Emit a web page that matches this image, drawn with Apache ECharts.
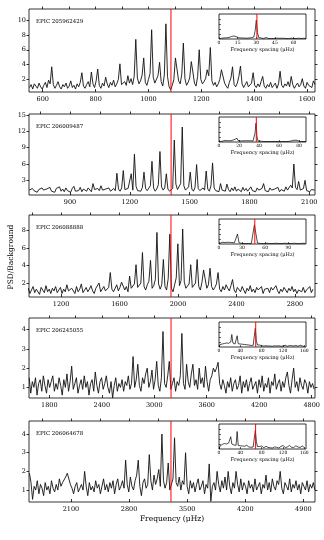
<!DOCTYPE html>
<html>
<head>
<meta charset="utf-8">
<script src="https://cdn.jsdelivr.net/npm/echarts@6/dist/echarts.min.js"></script>
<style>
html, body { margin: 0; padding: 0; background: #fff; }
#chart { width: 324px; height: 540px; }
</style>
</head>
<body>
<div id="chart"></div>
<script>
// star names, one per panel
var starIds = ['EPIC 205962429', 'EPIC 206009487', 'EPIC 206088888', 'EPIC 206245055', 'EPIC 206064678'];

// spectra are sampled on a regular grid: first frequency and step (muHz)
var specStart = [550, 695, 965, 1570, 1600];
var specStep = [6, 8, 11, 18, 19];

// PSD/background
var psd1 = [
  0.9,1.3,0.7,1.4,1.1,0.8,1.5,1.0,0.7,1.2, 1.6,0.9,1.9,1.4,3.7,1.3,0.8,1.2,1.7,1.0,
  0.7,1.3,1.0,1.5,0.8,1.1,1.8,0.9,1.2,0.7, 1.4,1.0,1.6,2.9,1.1,0.8,1.3,1.7,1.0,3.0,
  1.4,0.9,1.8,3.4,1.2,0.8,1.5,1.1,2.3,1.4, 0.9,1.6,1.2,1.9,1.0,1.4,2.0,4.1,1.3,1.1,
  1.7,1.2,2.5,1.5,2.1,1.3,2.4,7.4,2.2,1.4, 1.8,2.6,4.9,1.6,1.2,2.0,2.8,8.7,2.3,1.5,
  1.3,2.5,4.3,1.7,1.1,2.6,9.5,2.4,1.0,0.6, 1.2,2.0,4.9,5.1,1.8,1.4,2.7,6.9,2.1,1.2,
  1.6,2.2,4.4,3.0,1.5,1.1,2.4,6.0,2.0,1.4, 1.7,2.1,3.3,2.5,6.3,1.8,1.2,1.6,1.0,1.4,
  2.0,3.3,3.3,1.5,1.1,0.8,1.6,2.2,3.7,1.3, 1.0,1.5,2.4,3.8,1.4,0.9,1.3,1.7,1.0,0.8,
  1.5,2.9,1.2,0.9,1.4,1.0,1.7,2.4,1.1,0.8, 1.3,1.0,1.6,0.9,1.2,1.5,0.8,1.4,3.1,1.2,
  0.9,1.4,1.1,1.7,1.0,2.4,1.3,0.8,1.2,1.5, 1.0,1.3,2.1,1.1,0.8,1.6,1.2,1.4,0.9,1.8,1.3
];
var psd2 = [
  1.2,0.9,1.5,1.1,1.4,0.8,1.3,1.0,1.6,1.2, 0.9,1.4,1.1,1.7,1.0,1.3,0.8,1.5,1.2,1.8,
  1.0,1.4,0.9,1.6,1.1,1.3,0.8,1.5,1.9,1.0, 1.3,1.1,1.7,0.9,1.4,1.2,1.0,1.6,1.3,0.9,
  2.4,1.3,1.0,1.5,1.1,2.0,1.2,0.9,1.4,1.1, 1.6,1.0,1.3,1.5,1.1,4.3,1.4,1.0,1.6,4.8,
  1.3,1.0,1.5,1.8,4.2,1.2,7.8,1.9,1.1,1.4, 1.0,1.7,4.5,1.5,1.1,1.3,2.0,6.5,1.6,1.0,
  1.4,2.2,8.3,1.8,1.2,1.6,4.2,1.4,1.0,0.7, 1.5,10.4,2.3,1.3,1.1,2.4,12.8,2.0,1.2,1.5,
  1.8,4.5,1.4,1.0,1.7,5.9,1.5,1.1,1.3,1.6, 1.2,4.7,1.4,1.0,2.0,6.2,1.6,1.1,1.4,0.9,
  2.4,1.2,1.5,1.0,2.3,1.3,0.9,1.6,1.1,1.8, 1.0,1.4,1.2,0.9,1.7,1.1,1.5,1.0,1.3,1.8,
  1.1,1.4,0.9,1.6,1.2,1.0,1.5,2.4,1.1,1.3, 0.9,1.6,1.2,1.0,1.4,1.1,1.7,0.9,1.3,1.5,
  1.0,1.8,1.2,1.4,2.1,1.6,6.0,1.7,1.3,2.8, 1.2,1.0,1.5,3.0,1.1,1.4,0.9,1.3,1.1,1.2
];
var psd3 = [
  1.0,1.4,0.8,1.2,1.6,0.9,1.3,1.1,0.7,1.5, 1.2,0.9,1.7,1.0,1.3,0.8,1.4,1.1,1.6,0.9,
  1.2,1.5,0.8,1.3,1.0,1.8,1.1,0.9,1.4,1.2, 0.8,1.6,1.0,1.3,1.9,0.9,1.2,1.5,1.0,1.3,
  1.7,1.1,0.8,1.4,1.2,2.0,1.0,1.3,1.6,1.1, 0.9,1.5,3.2,1.3,1.0,1.4,1.8,1.1,1.5,2.1,
  2.2,1.2,1.6,1.0,2.8,1.4,1.2,1.9,4.1,1.5, 1.3,2.0,5.5,1.6,1.2,1.8,2.2,4.6,1.4,1.7,
  2.4,7.8,1.9,1.3,1.8,4.7,1.6,1.2,2.5,7.6, 1.4,1.0,1.8,2.6,6.5,1.7,2.3,8.2,2.1,1.4,
  1.2,1.9,4.1,1.5,1.3,2.0,4.7,1.6,1.2,2.1, 3.5,3.3,1.4,1.8,3.7,1.6,1.2,1.5,1.9,3.2,
  1.3,1.0,1.6,1.2,1.8,1.4,1.1,1.7,2.4,1.2, 0.9,1.5,1.3,1.0,1.6,1.2,0.8,1.4,1.1,1.7,
  1.0,1.3,0.9,1.5,1.2,1.0,1.6,0.8,1.3,1.1, 1.4,0.9,1.5,1.2,1.0,1.7,1.1,0.8,1.3,1.0,
  1.5,1.2,0.9,1.4,1.1,1.6,1.0,1.3,0.8,1.2, 1.4,1.0,1.5,0.9,1.2,1.1,1.6,0.9,1.3
];
var psd4 = [
  1.5,0.7,1.3,1.0,1.5,0.6,1.2,1.4,0.8,1.6, 1.1,0.7,1.4,1.0,1.3,1.6,0.8,1.2,0.9,1.5,
  1.1,0.6,1.4,1.0,1.7,0.8,1.3,2.1,0.9,1.2, 1.5,0.7,1.1,1.4,0.9,1.6,1.0,1.3,0.6,1.2,
  1.4,0.8,1.8,1.1,0.7,1.3,1.5,0.9,1.2,1.6, 1.0,0.7,1.3,0.45,1.1,1.5,0.8,1.2,1.0,1.4,
  0.8,1.3,1.1,1.6,0.9,1.2,2.6,1.0,1.4,2.2, 1.1,0.8,1.5,1.2,1.7,2.0,1.0,1.3,1.9,0.9,
  1.4,2.35,1.1,0.8,1.5,3.9,1.2,1.0,1.6,2.35, 0.9,1.2,1.5,0.8,1.3,1.1,1.6,3.8,1.2,0.9,
  2.2,1.3,1.0,1.7,2.2,1.1,1.4,0.9,2.0,1.2, 1.5,1.0,2.1,1.3,0.8,1.4,1.6,2.0,1.8,2.0,
  2.3,1.2,0.9,1.4,1.1,0.7,1.3,1.0,1.5,0.8, 1.2,1.4,0.9,1.1,1.6,0.7,1.3,1.0,1.4,0.8,
  1.2,1.5,0.9,1.1,1.3,0.7,1.4,1.0,1.6,0.8, 1.2,1.0,1.5,0.7,1.3,1.1,1.7,0.9,1.2,1.4,
  0.8,1.3,1.0,1.5,1.8,1.1,0.7,1.4,2.0,1.0, 1.3,0.8,1.5,1.1,0.9,1.4,1.2,0.7,1.3,1.0,1.2,0.9
];
var psd5 = [
  1.9,1.4,0.5,1.2,1.0,1.5,0.8,1.3,1.1,0.7, 1.4,1.0,1.2,0.8,1.5,1.1,0.9,1.3,1.0,1.6,
  1.2,1.4,1.5,1.7,1.9,1.8,1.3,1.1,0.8,1.2, 1.4,0.9,1.1,1.3,1.0,2.0,1.2,0.7,1.4,1.0,
  1.2,0.9,1.5,1.1,1.3,0.8,1.2,1.6,1.0,1.3, 0.9,1.4,1.1,1.5,0.8,1.3,1.6,1.0,1.2,1.5,
  1.1,2.6,1.3,0.9,1.7,1.2,1.0,1.5,1.8,2.6, 1.2,0.7,1.4,1.6,1.1,1.3,2.9,1.5,1.0,1.8,
  1.3,1.6,2.1,1.2,4.0,1.5,1.1,1.4,2.45,1.0, 0.9,1.6,3.8,1.4,1.2,1.7,1.0,1.5,1.3,3.0,
  1.2,0.8,1.5,1.1,1.4,0.9,1.3,1.6,1.0,1.2, 1.5,0.8,1.3,1.1,2.4,0.4,1.2,1.4,1.0,2.0,
  1.3,0.9,1.5,1.1,1.7,1.0,2.0,1.2,0.8,1.4, 1.1,2.0,1.3,0.9,1.6,1.0,1.4,1.2,0.8,1.5,
  1.1,1.3,0.9,1.6,1.0,1.2,1.4,0.8,1.3,1.1, 1.8,1.0,1.4,0.9,1.6,1.2,1.0,1.5,1.3,2.0,
  1.1,0.8,1.4,1.2,1.0,1.6,0.9,1.3,1.1,1.5, 1.0,1.3,0.8,1.4,1.2,1.0,1.5,0.9,1.3,1.1,1.4,1.0
];
var psdAll = [psd1, psd2, psd3, psd4, psd5];

// numax (red line) per panel
var numax = [1085, 1407, 1952, 3192, 3305];

// axis limits and tick labels of the main panels
var xLimits = [[548, 1630], [694, 2129], [981, 2937], [1568, 4838], [1595, 5040]];
var xTicks = [
  [600, 800, 1000, 1200, 1400, 1600],
  [900, 1200, 1500, 1800, 2100],
  [1200, 1600, 2000, 2400, 2800],
  [1800, 2400, 3000, 3600, 4200, 4800],
  [2100, 2800, 3500, 4200, 4900]
];
var xMinorStep = [100, 150, 200, 300, 350];
var yLimits = [[0.3, 11.5], [0.3, 15.2], [0.4, 9.8], [0.45, 4.6], [0.36, 4.7]];
var yTicks = [
  [2, 4, 6, 8, 10],
  [3, 6, 9, 12, 15],
  [2, 4, 6, 8],
  [1, 2, 3, 4],
  [1, 2, 3, 4]
];

// insets: collapsed ACF vs frequency spacing
var acfStep = [1, 1, 2, 2, 2];
var acf1 = [
  0,0.02,0.03,0.05,0.04,0.06,0.05,0.07,0.06,0.08, 0.1,0.07,0.12,0.08,0.09,0.06,0.05,0.07,0.04,0.05,
  0.04,0.06,0.03,0.05,0.04,0.03,0.05,0.04,0.08,0.3, 0.75,0.25,0.06,0.03,0.04,0.03,0.02,0.04,0.06,0.03,
  0.02,0.03,0.02,0.03,0.02,0.02,0.03,0.02,0.03,0.04, 0.03,0.02,0.03,0.02,0.02,0.03,0.02,0.02,0.03,0.02,
  0.02,0.03,0.02,0.02,0.03,0.02,0.02,0.02,0.03,0.02,0.02
];
var acf2 = [
  0,0.03,0.04,0.03,0.05,0.04,0.06,0.05,0.07,0.05, 0.06,0.08,0.05,0.07,0.06,0.09,0.07,0.1,0.15,0.06,
  0.05,0.07,0.04,0.06,0.11,0.05,0.04,0.03,0.05,0.04, 0.03,0.05,0.04,0.08,0.04,0.06,0.35,0.75,0.2,0.04,
  0.03,0.02,0.03,0.02,0.03,0.02,0.02,0.03,0.02,0.02, 0.03,0.02,0.02,0.03,0.02,0.02,0.03,0.02,0.02,0.03,
  0.02,0.02,0.03,0.02,0.02,0.03,0.02,0.02,0.03,0.02, 0.02,0.03,0.04,0.05,0.06,0.07,0.08,0.08,0.07,0.06,
  0.04,0.02,0.02,0.03,0.02,0.02,0.03,0.02
];
var acf3 = [
  0,0.05,0.07,0.08,0.06,0.09,0.07,0.08,0.06,0.07, 0.05,0.06,0.4,0.05,0.03,0.02,0.03,0.02,0.03,0.02,
  0.03,0.02,0.08,0.77,0.4,0.04,0.03,0.02,0.03,0.02, 0.02,0.03,0.02,0.02,0.03,0.02,0.02,0.03,0.02,0.02,
  0.03,0.02,0.02,0.03,0.02,0.02,0.03,0.02,0.02,0.03, 0.02,0.02,0.03,0.02,0.02,0.03,0.02
];
var acf4 = [
  0,0.1,0.15,0.12,0.18,0.14,0.2,0.16,0.22,0.15, 0.18,0.2,0.5,0.16,0.14,0.12,0.15,0.45,0.13,0.1,
  0.12,0.09,0.11,0.08,0.1,0.07,0.09,0.06,0.08,0.05, 0.06,0.05,0.07,0.1,0.75,0.25,0.08,0.06,0.08,0.04,
  0.05,0.07,0.04,0.03,0.05,0.06,0.04,0.03,0.04,0.05, 0.03,0.04,0.05,0.06,0.04,0.03,0.05,0.04,0.03,0.02,
  0.04,0.06,0.07,0.05,0.03,0.04,0.06,0.07,0.05,0.03, 0.04,0.05,0.06,0.04,0.03,0.05,0.07,0.06,0.04,0.03,
  0.02
];
var acf5 = [
  0,0.12,0.2,0.18,0.25,0.22,0.28,0.2,0.26,0.24, 0.22,0.49,0.2,0.18,0.16,0.2,0.15,0.7,0.14,0.12,
  0.13,0.1,0.12,0.09,0.11,0.08,0.15,0.1,0.08,0.06, 0.07,0.06,0.08,0.12,0.74,0.3,0.1,0.08,0.1,0.06,
  0.12,0.08,0.05,0.09,0.11,0.07,0.06,0.08,0.05,0.06, 0.04,0.06,0.08,0.1,0.07,0.05,0.04,0.06,0.1,0.13,
  0.14,0.1,0.06,0.05,0.08,0.12,0.14,0.11,0.07,0.05, 0.06,0.1,0.13,0.12,0.08,0.05,0.06,0.09,0.12,0.1,
  0.06
];
var acfAll = [acf1, acf2, acf3, acf4, acf5];
var dnu = [30.5, 37.3, 46.5, 68.8, 68.6];
var insetMax = [70, 87, 113, 163, 163];
var insetTicks = [
  [0, 15, 30, 45, 60],
  [0, 20, 40, 60, 80],
  [0, 30, 60, 90],
  [0, 40, 80, 120, 160],
  [0, 40, 80, 120, 160]
];

var panelTop = [9, 114, 215, 318, 421];
var panelH = [83, 81, 82, 80, 81];
var insetTop = [14, 117, 219, 322, 424];

var FONT = 'DejaVu Serif';
var RED = '#ff0000';
var grids = [], xAxes = [], yAxes = [], series = [], graphics = [];

function minorTicks(lim, step) {
  var out = [];
  for (var v = Math.ceil(lim[0] / step) * step; v <= lim[1]; v += step) out.push(v);
  return out;
}
function plain(v) { return String(v); }

// vertical red marker drawn as its own little series
function redSeries(xa, ya, x, y0, y1) {
  return { type: 'line', xAxisIndex: xa, yAxisIndex: ya, data: [[x, y0], [x, y1]],
    showSymbol: false, animation: false, silent: true, z: 5,
    lineStyle: { color: RED, width: 1 }, itemStyle: { color: RED } };
}

for (var k = 0; k < 5; k++) {
  // main panel
  var g = grids.length;
  grids.push({ left: 29, top: panelTop[k], width: 286, height: panelH[k], show: true,
    borderColor: '#000', borderWidth: 0.8, backgroundColor: 'transparent' });
  var xa = xAxes.length, ya = yAxes.length;
  xAxes.push({ type: 'value', gridIndex: g, min: xLimits[k][0], max: xLimits[k][1],
    axisLine: { show: false }, splitLine: { show: false },
    axisTick: { customValues: xTicks[k], inside: true, length: 3, lineStyle: { color: '#000', width: 0.8 } },
    axisLabel: { customValues: xTicks[k], formatter: plain, fontSize: 6.5, fontFamily: FONT, color: '#000', margin: 4 } });
  xAxes.push({ type: 'value', gridIndex: g, position: 'top', min: xLimits[k][0], max: xLimits[k][1],
    axisLine: { show: false }, splitLine: { show: false }, axisLabel: { show: false },
    axisTick: { customValues: minorTicks(xLimits[k], xMinorStep[k]), length: 2.5, lineStyle: { color: '#000', width: 0.8 } } });
  yAxes.push({ type: 'value', gridIndex: g, min: yLimits[k][0], max: yLimits[k][1],
    axisLine: { show: false }, splitLine: { show: false },
    axisTick: { customValues: yTicks[k], length: 2.5, lineStyle: { color: '#000', width: 0.8 } },
    axisLabel: { customValues: yTicks[k], formatter: plain, fontSize: 6.5, fontFamily: FONT, color: '#000', margin: 3 } });
  yAxes.push({ type: 'value', gridIndex: g, position: 'right', min: yLimits[k][0], max: yLimits[k][1],
    axisLine: { show: false }, splitLine: { show: false }, axisLabel: { show: false },
    axisTick: { customValues: yTicks[k], length: 2.5, lineStyle: { color: '#000', width: 0.8 } } });

  var pts = psdAll[k].map(function (v, i) { return [specStart[k] + i * specStep[k], v]; });
  series.push({ type: 'line', xAxisIndex: xa, yAxisIndex: ya, data: pts, showSymbol: false,
    clip: true, animation: false, z: 3, lineStyle: { color: '#111', width: 0.9 }, itemStyle: { color: '#111' } });
  series.push(redSeries(xa, ya, numax[k], yLimits[k][0], yLimits[k][1]));

  graphics.push({ type: 'text', left: 36, top: panelTop[k] + 10,
    style: { text: starIds[k], font: '5.5px "' + FONT + '"', fill: '#000' } });

  // inset
  var gi = grids.length;
  grids.push({ left: 219, top: insetTop[k], width: 87, height: 25, show: true,
    borderColor: '#000', borderWidth: 0.8, backgroundColor: '#fff' });
  var xi = xAxes.length, yi = yAxes.length;
  xAxes.push({ type: 'value', gridIndex: gi, min: 0, max: insetMax[k],
    axisLine: { show: false }, splitLine: { show: false },
    axisTick: { customValues: insetTicks[k], inside: true, length: 2, lineStyle: { color: '#000', width: 0.6 } },
    axisLabel: { customValues: insetTicks[k], formatter: plain, fontSize: 4.5, fontFamily: FONT, color: '#000', margin: 1.5 },
    name: 'Frequency spacing (\u03bcHz)', nameLocation: 'middle', nameGap: 8.5,
    nameTextStyle: { fontSize: 5, fontFamily: FONT, color: '#000' } });
  yAxes.push({ type: 'value', gridIndex: gi, min: 0, max: 1,
    axisLine: { show: false }, splitLine: { show: false }, axisLabel: { show: false },
    axisTick: { customValues: [0.2, 0.4, 0.6, 0.8], inside: true, length: 2, lineStyle: { color: '#000', width: 0.6 } } });
  var apts = acfAll[k].map(function (v, i) { return [i * acfStep[k], v]; });
  series.push({ type: 'line', xAxisIndex: xi, yAxisIndex: yi, data: apts, showSymbol: false,
    animation: false, z: 3, lineStyle: { color: '#000', width: 0.7 }, itemStyle: { color: '#000' } });
  series.push(redSeries(xi, yi, dnu[k], 0, 1));
}

graphics.push({ type: 'text', x: 11, y: 257, rotation: Math.PI / 2,
  style: { text: 'PSD/Background', font: '7.5px "' + FONT + '"', fill: '#000', align: 'center', verticalAlign: 'middle' } });
graphics.push({ type: 'text', x: 172, y: 519,
  style: { text: 'Frequency (\u03bcHz)', font: '7.5px "' + FONT + '"', fill: '#000', align: 'center', verticalAlign: 'middle' } });

var chart = echarts.init(document.getElementById('chart'), null, { renderer: 'canvas' });
chart.setOption({
  animation: false,
  backgroundColor: '#fff',
  grid: grids,
  xAxis: xAxes,
  yAxis: yAxes,
  series: series,
  graphic: graphics
});
</script>
</body>
</html>
